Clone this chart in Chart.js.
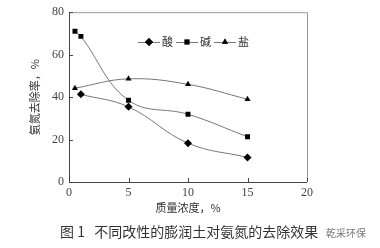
<!DOCTYPE html>
<html>
<head>
<meta charset="utf-8">
<script src="https://cdn.jsdelivr.net/npm/chart.js@4/dist/chart.umd.min.js"></script>
<style>
body{margin:0;background:#fff;}
#wrap{position:relative;width:380px;height:248px;}
#cap{position:absolute;left:60px;top:221px;font:14px "Noto Sans CJK SC";color:#333;white-space:nowrap;}
#wm{position:absolute;left:326px;top:225px;font:10px "Noto Sans CJK SC";color:#777;}
</style>
</head>
<body>
<div id="wrap">
<canvas id="grafico" width="380" height="248"></canvas>
<div id="cap">图 1&nbsp;&nbsp;&nbsp;不同改性的膨润土对氨氮的去除效果</div>
<div id="wm">乾采环保</div>
</div>
<script>
const nomes = ['酸', '碱', '盐'];
const xAcido = [1, 5, 10, 15];
const acido = [41.3, 35.4, 18.3, 11.6];
const xBase = [0.5, 1, 5, 10, 15];
const base = [71, 68.6, 38.5, 31.9, 21.3];
const xSal = [0.5, 5, 10, 15];
const sal = [44.2, 48.6, 46, 39];
const marcadores = ['rectRot', 'rect', 'triangle'];
const xTicks = [0, 5, 10, 15, 20];
const yTicks = [0, 20, 40, 60, 80];

const fonteNum = {family: '"Liberation Serif", "DejaVu Serif", serif', size: 12};
const fonteCjk = {family: '"Noto Sans CJK SC"', size: 11};

function serie(xs, ys, i){
    return {
        label: nomes[i],
        data: xs.map((x, k) => ({x: x, y: ys[k]})),
        borderColor: '#777',
        borderWidth: 1,
        pointStyle: marcadores[i],
        pointRadius: i === 0 ? 4 : 3.5,
        pointBackgroundColor: '#000',
        pointBorderColor: '#000',
        pointBorderWidth: 0,
        tension: 0.4
    };
}

// moldura, ticks para dentro e legenda dentro do grafico
const extras = {
    id: 'extras',
    afterDraw(chart){
        const c = chart.ctx, a = chart.chartArea;
        const sx = chart.scales.x, sy = chart.scales.y;
        c.save();
        c.strokeStyle = '#999';
        c.lineWidth = 1;
        c.beginPath();
        c.moveTo(a.left, a.top + 0.5); c.lineTo(a.right + 0.5, a.top + 0.5); c.lineTo(a.right + 0.5, a.bottom);
        c.stroke();
        c.strokeStyle = '#444';
        c.beginPath();
        c.moveTo(a.left + 0.5, a.top); c.lineTo(a.left + 0.5, a.bottom + 0.5); c.lineTo(a.right, a.bottom + 0.5);
        xTicks.forEach(v => { const p = Math.round(sx.getPixelForValue(v)) + 0.5; c.moveTo(p, a.bottom); c.lineTo(p, a.bottom - 4); });
        yTicks.forEach(v => { const p = Math.round(sy.getPixelForValue(v)) + 0.5; c.moveTo(a.left, p); c.lineTo(a.left + 4, p); });
        c.stroke();
        // legenda
        const ly = 42;
        const xs = [138, 176, 214];
        c.font = '11px "Noto Sans CJK SC"';
        c.textBaseline = 'middle';
        chart.data.datasets.forEach((ds, i) => {
            const x0 = xs[i];
            c.strokeStyle = '#777';
            c.beginPath(); c.moveTo(x0, ly + 0.5); c.lineTo(x0 + 22, ly + 0.5); c.stroke();
            Chart.helpers.drawPoint(c, {pointStyle: ds.pointStyle, radius: ds.pointRadius, rotation: 0, borderWidth: 0}, x0 + 11, ly);
            c.fillStyle = '#000';
            c.fill();
            c.fillStyle = '#333';
            c.fillText(ds.label, x0 + 24, ly);
        });
        c.restore();
    }
};

new Chart(document.getElementById('grafico'), {
    type: 'line',
    data: {datasets: [serie(xAcido, acido, 0), serie(xBase, base, 1), serie(xSal, sal, 2)]},
    options: {
        responsive: false,
        animation: false,
        layout: {padding: {top: 9, right: 73, bottom: 34, left: 0}},
        plugins: {legend: {display: false}, tooltip: {enabled: false}},
        scales: {
            x: {
                type: 'linear', min: 0, max: 20,
                afterFit: s => { s.height = 32; },
                afterBuildTicks: s => { s.ticks = xTicks.map(v => ({value: v})); },
                grid: {display: false, drawTicks: false},
                border: {display: false},
                ticks: {font: fonteNum, color: '#444', padding: 4, maxRotation: 0},
                title: {display: true, text: '质量浓度，%', font: fonteCjk, color: '#333', padding: 0}
            },
            y: {
                min: 0, max: 80,
                afterFit: s => { s.width = 69; },
                afterBuildTicks: s => { s.ticks = yTicks.map(v => ({value: v})); },
                grid: {display: false, drawTicks: false},
                border: {display: false},
                ticks: {font: fonteNum, color: '#444', padding: 5},
                title: {display: true, text: '氨氮去除率，%', font: fonteCjk, color: '#333', padding: {top: 28, bottom: 0}}
            }
        }
    },
    plugins: [extras]
});
</script>
</body>
</html>
